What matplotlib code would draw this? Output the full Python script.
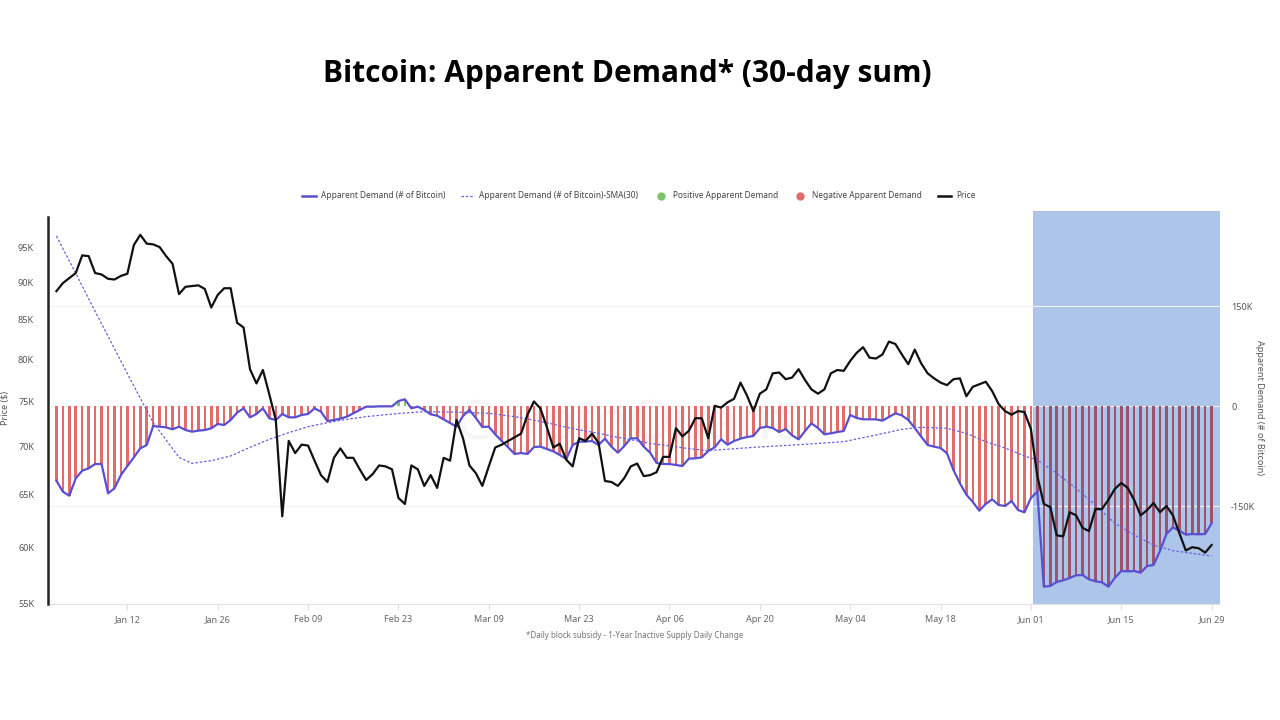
import numpy as np
import pandas as pd
import matplotlib
matplotlib.use('Agg')
import matplotlib.pyplot as plt
import matplotlib.dates as mdates
from matplotlib.lines import Line2D
from matplotlib.ticker import NullLocator

plt.rcParams['font.family'] = ['Noto Sans', 'DejaVu Sans']

# daily data, 1 Jan - 29 Jun
dates = pd.date_range('2026-01-01', periods=180, freq='D')

price_k = [
    88.8, 89.9, 90.6, 91.3, 93.8, 93.7, 91.3, 91.1, 90.5, 90.4,
    90.9, 91.2, 95.3, 96.8, 95.5, 95.4, 95.0, 93.7, 92.6, 88.4,
    89.4, 89.5, 89.6, 89.1, 86.6, 88.3, 89.2, 89.2, 84.6, 84.0,
    78.8, 77.1, 78.7, 75.8, 72.9, 62.9, 70.6, 69.3, 70.2, 70.1,
    68.5, 67.0, 66.3, 68.8, 69.8, 68.8, 68.8, 67.6, 66.5, 67.1,
    68.0, 67.9, 67.6, 64.7, 64.1, 68.0, 67.6, 65.9, 67.0, 65.7,
    68.8, 68.5, 72.9, 70.9, 68.0, 67.2, 65.9, 67.9, 69.9, 70.2,
    70.6, 71.0, 71.4, 73.5, 75.0, 74.2, 72.1, 69.9, 70.3, 68.6,
    67.9, 70.9, 70.6, 71.4, 70.4, 66.4, 66.3, 65.9, 66.7, 67.9,
    68.2, 66.9, 67.0, 67.3, 68.9, 68.9, 72.0, 71.1, 71.7, 73.1,
    73.1, 70.9, 74.5, 74.3, 74.9, 75.3, 77.2, 75.7, 73.9, 75.9,
    76.4, 78.3, 78.4, 77.6, 77.8, 78.8, 77.5, 76.4, 75.9, 76.4,
    78.3, 78.7, 78.6, 79.8, 80.8, 81.5, 80.2, 80.1, 80.6, 82.2,
    81.9, 80.6, 79.4, 81.2, 79.5, 78.3, 77.7, 77.2, 76.9, 77.6,
    77.7, 75.6, 76.7, 77.0, 77.3, 76.2, 74.7, 73.9, 73.5, 73.9,
    73.8, 71.9, 66.9, 64.1, 63.8, 61.1, 61.0, 63.3, 63.0, 61.8,
    61.5, 63.6, 63.6, 64.5, 65.6, 66.2, 65.7, 64.5, 63.0, 63.5,
    64.2, 63.3, 63.9, 63.0, 61.3, 59.7, 60.0, 59.9, 59.5, 60.2,
]

demand_k = [
    -112, -128.5, -134.5, -108.5, -97, -93.5, -87, -87, -131, -123.5,
    -103.5, -90, -77, -63.5, -58.5, -30, -31, -32, -35, -31,
    -36, -38.5, -37, -36, -33.5, -27, -28.5, -21, -10, -3.5,
    -17, -12, -3.5, -18.5, -21, -12, -17, -17, -13.5, -12,
    -3.5, -8.5, -22.5, -21, -19, -16, -11, -6, -1, -1,
    -0.5, -0.5, -0.5, 7.5, 10, -3.5, -1, -6, -12.5, -14.5,
    -20, -25.5, -31, -15, -6, -18, -31.5, -31, -42.5, -52.5,
    -62, -72, -70.5, -72, -61.5, -61, -64.5, -68, -73.5, -79.5,
    -58.5, -53.5, -53.5, -52.5, -58.5, -49, -61, -70, -60, -48.5,
    -48.5, -61, -70, -85.5, -87, -87, -88.5, -90, -79, -78.5,
    -77, -67.5, -62, -50, -58, -52.5, -49, -46.5, -45, -33,
    -31, -33, -39, -34.5, -44, -50, -37.5, -26, -33, -42.5,
    -41, -39, -37.5, -13.5, -18, -20, -20, -20, -22, -16.5,
    -11, -14, -21, -33, -46, -58.5, -61, -63, -71, -96,
    -116, -133, -144, -157, -147, -140, -148.5, -150, -142.5, -156,
    -159.5, -138, -128.5, -271, -270, -264, -261.5, -258, -254, -253.5,
    -260, -263, -264.5, -271, -258, -247.5, -248, -247.5, -250, -240,
    -238.5, -217.5, -192, -182, -187, -193, -192, -192.5, -192, -176,
]

# 30-day SMA, read at sample days
sma_day = [0, 3, 6, 9, 12, 15, 17, 19, 21, 24, 27, 30, 33, 36, 39, 42, 45, 48,
           51, 54, 57, 60, 63, 67, 71, 75, 80, 84, 87, 92, 98, 101, 108, 116,
           122, 127, 131, 134, 138, 141, 144, 147, 150, 152, 155, 158, 161,
           164, 167, 170, 173, 176, 179]
sma_k = [255, 199, 142, 86, 30, -25, -51, -77, -86, -82, -75, -62, -50, -40,
         -31, -25, -20, -16, -13, -10.5, -8.5, -9, -9.5, -11, -16, -23, -34,
         -41, -47, -56, -64, -67, -62, -57.5, -53.5, -43.5, -35, -32, -33.5,
         -41, -53.5, -63, -75, -81, -101, -123.5, -148.5, -176, -193.5,
         -208.5, -217, -221, -225]

price_ticks = [55, 60, 65, 70, 75, 80, 85, 90, 95]
demand_ticks = [-150, 0, 150]
highlight_start = pd.Timestamp('2026-06-01')

sma_dates = dates[sma_day]

fig = plt.figure(figsize=(12.8, 7.2), dpi=100)
ax = fig.add_axes([48 / 1280, 1 - 604 / 720, (1220 - 48) / 1280, (604 - 211) / 720])
axp = ax.twinx()

# highlight box
ax.axvspan(highlight_start + pd.Timedelta(hours=8), dates[0] + pd.Timedelta(days=180.3),
           color='#adc5e8', zorder=0, lw=0)

red = '#e06c6c'
green = '#7cc46c'
dark_red = '#9a5470'
bar_colors = []
for d, v in zip(dates, demand_k):
    if v > 0:
        bar_colors.append(green)
    elif d > highlight_start:
        bar_colors.append(dark_red)
    else:
        bar_colors.append(red)

ax.bar(dates, demand_k, width=0.4, color=bar_colors, zorder=2, lw=0)
ax.plot(dates, demand_k, color='#5a4fd0', lw=1.6, zorder=3)
ax.plot(sma_dates, sma_k, color='#6a5fe0', lw=0.9, ls=(0, (2, 1.5)), zorder=3)

ax.text(dates[88], -28, 'CryptoQuant', fontsize=40, color='#eeeeee',
        alpha=0.5, ha='center', va='center', zorder=1, fontweight='bold')

axp.plot(dates, price_k, color='#111111', lw=1.6, zorder=4)

# axes
ax.set_xlim(dates[0] - pd.Timedelta(days=1.3), dates[0] + pd.Timedelta(days=180.3))
ax.set_ylim(-297, 292.5)
axp.set_yscale('log')
axp.set_ylim(55, 100.4)

ax.yaxis.tick_right()
ax.yaxis.set_label_position('right')
axp.yaxis.tick_left()
axp.yaxis.set_label_position('left')

ax.set_yticks(demand_ticks)
ax.set_yticklabels(['-150K', '0', '150K'])
axp.set_yticks(price_ticks)
axp.set_yticklabels([f'{t}K' for t in price_ticks])
axp.yaxis.set_minor_locator(NullLocator())

xt = pd.date_range('2026-01-12', '2026-06-29', freq='14D')
ax.set_xticks(xt)
ax.xaxis.set_major_formatter(mdates.DateFormatter('%b %d'))

ax.grid(axis='y', color='#f2f2f2', lw=0.8, zorder=0)
ax.set_axisbelow(True)

for a in (ax, axp):
    for s in ('top', 'right', 'left'):
        a.spines[s].set_visible(False)
    a.spines['bottom'].set_color('#e2e2e2')
axp.spines['left'].set_visible(True)
axp.spines['left'].set_color('#222222')
axp.spines['left'].set_linewidth(1.8)
axp.spines['left'].set_bounds(55, 99.5)
axp.spines['bottom'].set_visible(False)

ax.tick_params(axis='y', length=0, labelsize=6.5, labelcolor='#555555', pad=8)
axp.tick_params(axis='y', length=0, labelsize=6.5, labelcolor='#555555', pad=10)
ax.tick_params(axis='x', length=4, color='#e2e2e2', labelsize=6.5,
               labelcolor='#666666', pad=4)

axp.set_ylabel('Price ($)', fontsize=6.5, color='#555555', labelpad=6)
ax.set_ylabel('Apparent Demand (# of Bitcoin)', fontsize=6.5, color='#555555',
              rotation=270, labelpad=6)

fig.text(627 / 1280, 1 - 74 / 720, 'Bitcoin: Apparent Demand* (30-day sum)',
         fontsize=21.5, fontweight='bold', ha='center', va='center',
         family=['Open Sans', 'DejaVu Sans'])
fig.text(635 / 1280, 1 - 636 / 720,
         '*Daily block subsidy - 1-Year Inactive Supply Daily Change',
         fontsize=5.8, color='#777777', ha='center', va='center')

handles = [
    Line2D([], [], color='#5a4fd0', lw=1.8),
    Line2D([], [], color='#6a5fe0', lw=0.9, ls=(0, (2, 1.5))),
    Line2D([], [], color=green, marker='o', ls='none', markersize=5),
    Line2D([], [], color=red, marker='o', ls='none', markersize=5),
    Line2D([], [], color='#111111', lw=1.8),
]
labels = ['Apparent Demand (# of Bitcoin)', 'Apparent Demand (# of Bitcoin)-SMA(30)',
          'Positive Apparent Demand', 'Negative Apparent Demand', 'Price']
fig.legend(handles, labels, loc='center', bbox_to_anchor=(639 / 1280, 1 - 196 / 720),
           ncol=5, frameon=False, fontsize=6, labelcolor='#444444',
           handlelength=1.6, columnspacing=1.9, handletextpad=0.6)

fig.savefig('out.png', dpi=100)
